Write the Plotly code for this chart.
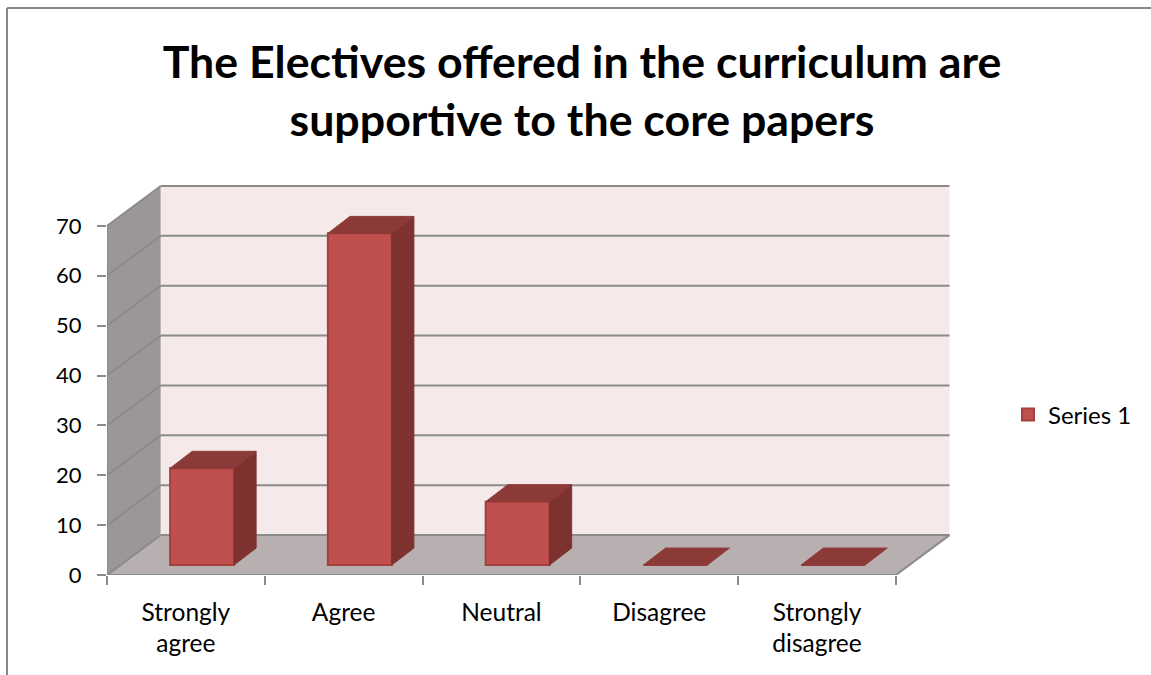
import plotly.graph_objects as go

categories = ["Strongly<br>agree", "Agree", "Neutral", "Disagree", "Strongly<br>disagree"]
values = [19.4, 66.5, 12.7, 0, 0]
series_name = "Series 1"
y_ticks = [0, 10, 20, 30, 40, 50, 60, 70]
title_text = "The Electives offered in the curriculum are<br>supportive to the core papers"

FONT = "Lato, Carlito, Calibri, sans-serif"
GRID = "#8b8b8b"
WALL_DX, WALL_DY = 0.34, 8.0
BAR_DX, BAR_DY = 0.14, 3.4
BAR_LEFT, BAR_W, BAR_BASE = 0.4, 0.405, 2.0
M_L, M_R, M_T, M_B = 107, 192, 176, 100
XMAX, YMAX = 5.4, 80
PW, PH = 1151 - M_L - M_R, 675 - M_T - M_B

fig = go.Figure()

# front faces (native bars)
xs = [i + BAR_LEFT + BAR_W / 2 for i in range(len(values))]
fig.add_trace(go.Bar(x=xs, y=values, base=BAR_BASE, width=BAR_W, name=series_name,
                     marker=dict(color="#c0504d", line=dict(color="#a33f3c", width=2)),
                     showlegend=True, hovertemplate="%{y}<extra></extra>"))


def poly(px, py, color):
    fig.add_trace(go.Scatter(x=px + px[:1], y=py + py[:1], mode="lines", fill="toself",
                             fillcolor=color, line=dict(color=color, width=1),
                             showlegend=False, hoverinfo="skip"))


for i, v in enumerate(values):
    x0 = i + BAR_LEFT
    x1 = x0 + BAR_W
    y0, y1 = BAR_BASE, BAR_BASE + v
    if v > 0:
        poly([x1, x1 + BAR_DX, x1 + BAR_DX, x1], [y0, y0 + BAR_DY, y1 + BAR_DY, y1], "#7d3230")
    poly([x0, x1, x1 + BAR_DX, x0 + BAR_DX], [y1, y1, y1 + BAR_DY, y1 + BAR_DY], "#8c3a38")

# walls and floor
def path(pts):
    return "M " + " L ".join(f"{a},{b}" for a, b in pts) + " Z"


top = y_ticks[-1]
n = len(categories)
shapes = [
    dict(type="path", path=path([(WALL_DX, WALL_DY), (n + WALL_DX, WALL_DY), (n + WALL_DX, top + WALL_DY), (WALL_DX, top + WALL_DY)]),
         fillcolor="#f5e9e9", line_width=0, layer="below"),
    dict(type="path", path=path([(0, 0), (WALL_DX, WALL_DY), (WALL_DX, top + WALL_DY), (0, top)]),
         fillcolor="#9c9797", line_width=0, layer="below"),
    dict(type="path", path=path([(0, 0), (WALL_DX, WALL_DY), (n + WALL_DX, WALL_DY), (n, 0)]),
         fillcolor="#b8b0b0", line_width=0, layer="below"),
]
line = dict(color=GRID, width=2)
for t in y_ticks:
    shapes.append(dict(type="line", x0=WALL_DX, x1=n + WALL_DX, y0=t + WALL_DY, y1=t + WALL_DY, line=line, layer="below"))
    shapes.append(dict(type="line", x0=0, x1=WALL_DX, y0=t, y1=t + WALL_DY, line=line, layer="below"))
shapes.append(dict(type="line", x0=0, x1=0, y0=0, y1=top, line=line, layer="below"))
shapes.append(dict(type="line", x0=0, x1=n, y0=0, y1=0, line=line, layer="below"))
shapes.append(dict(type="line", x0=n, x1=n + WALL_DX, y0=0, y1=WALL_DY, line=line, layer="below"))

# outer chart frame (open at right and bottom)
frame_x = (7 - M_L) / PW
frame_y = 1 + (M_T - 8) / PH
frame = dict(color="#888888", width=2)
shapes.append(dict(type="line", xref="paper", yref="paper", x0=frame_x, x1=(1151 - M_L) / PW, y0=frame_y, y1=frame_y, line=frame))
shapes.append(dict(type="line", xref="paper", yref="paper", x0=frame_x, x1=frame_x, y0=frame_y, y1=-M_B / PH, line=frame))

fig.update_layout(
    width=1151, height=675,
    margin=dict(l=M_L, r=M_R, t=M_T, b=M_B, pad=0),
    paper_bgcolor="white", plot_bgcolor="white",
    font=dict(family=FONT, color="#000000", size=21),
    title=dict(text=f"<b>{title_text}</b>", x=582 / 1151, xanchor="center", y=1 - 77.5 / 675, yanchor="middle",
               font=dict(size=44.7, family=FONT)),
    shapes=shapes,
    showlegend=True,
    legend=dict(x=(1008 - M_L) / PW, y=1 - (415 - M_T) / PH, xanchor="left", yanchor="middle",
                font=dict(size=24, family=FONT), bgcolor="rgba(0,0,0,0)"),
    xaxis=dict(range=[0, XMAX], showgrid=False, zeroline=False, showline=False,
               tickmode="array", tickvals=[i + 0.5 for i in range(n)], ticktext=categories,
               ticks="", ticklabelstandoff=20, tickfont=dict(size=24.5, family=FONT),
               minor=dict(ticks="outside", tickmode="array", tickvals=list(range(n + 1)), ticklen=9, tickwidth=2, tickcolor=GRID, showgrid=False)),
    yaxis=dict(range=[0, YMAX], showgrid=False, zeroline=False, showline=False,
               tickmode="array", tickvals=y_ticks, ticks="outside", ticklen=9, tickwidth=2, tickcolor=GRID,
               ticklabelstandoff=11, tickfont=dict(size=22, family=FONT)),
)

fig.write_html("out.html", post_script="document.body.style.margin='0';", config={"displayModeBar": False})
